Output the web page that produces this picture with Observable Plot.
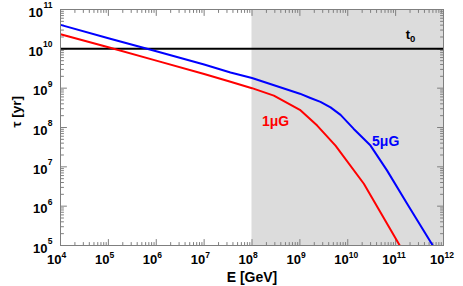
<!DOCTYPE html>
<html>
<head>
<meta charset="utf-8">
<script src="https://cdn.jsdelivr.net/npm/d3@7"></script>
<script src="https://cdn.jsdelivr.net/npm/@observablehq/plot@0.6"></script>
<style>
  html, body { margin: 0; padding: 0; background: #ffffff; }
  #chart svg { display: block; }
</style>
</head>
<body>
<div id="chart"></div>
<script>
// ---- data ----
// tick exponents (labels 10^n)
const xTickExp = [4, 5, 6, 7, 8, 9, 10, 11, 12];
const yTickExp = [5, 6, 7, 8, 9, 10, 11];

// 1 μG curve (red): energy [GeV], loss time [yr]
const energy1 = [1e4, 1e5, 1e6, 1e7, 3.55e7, 1e8, 2.86e8, 1e9, 2.3e9, 5.55e9, 2.17e10, 1.22e11];
const tau1    = [2.34e10, 1.10e10, 5.01e9, 2.29e9, 1.45e9, 1.0e9, 6.46e8, 2.82e8, 1.12e8, 3.47e7, 3.72e6, 1e5];

// 5 μG curve (blue)
const energy5 = [1e4, 1e5, 1e6, 1e7, 3.55e7, 1e8, 1e9, 1.66e9, 2.69e9, 4.37e9, 7.08e9, 1.32e10, 2.99e10, 6.6e10, 1.74e11, 5.97e11];
const tau5    = [4.07e10, 1.86e10, 8.71e9, 3.98e9, 2.51e9, 1.82e9, 7.24e8, 5.62e8, 4.47e8, 3.24e8, 2.09e8, 9.33e7, 3.47e7, 8.13e6, 1.15e6, 1e5];

// age of the universe t0 [yr]
const ageUniverse = [1e10];

// shaded energy band
const bandStart = [1e8];
const bandEnd = [1e12];

// curve labels and their anchor points (data units)
const curveNames = ["1μG", "5μG"];
const curveLabelE = [3.1e8, 6.2e10];
const curveLabelTau = [1.12e8, 3.3e7];
const curveColors = ["#ff0000", "#0000ff"];
const t0LabelE = [2.0e11];
const t0LabelTau = [1.78e10];

// ---- derived ----
const xMajor = xTickExp.map(e => 10 ** e);
const yMajor = yTickExp.map(e => 10 ** e);
const minorOf = exps => exps.slice(0, -1).flatMap(e => d3.range(2, 10).map(m => m * 10 ** e));
const xMinor = minorOf(xTickExp);
const yMinor = minorOf(yTickExp);

const red = d3.zip(energy1, tau1);
const blue = d3.zip(energy5, tau5);
const band = d3.zip(bandStart, bandEnd);
const curveLabels = curveNames.map((n, i) => ({n, E: curveLabelE[i], tau: curveLabelTau[i], c: curveColors[i]}));

const xMin = xMajor[0], xMax = xMajor[xMajor.length - 1];
const yMin = yMajor[0], yMax = yMajor[yMajor.length - 1];

const grey = "#7f7f7f";
const tickShape = {draw(context, l) { context.moveTo(0, 0); context.lineTo(0, -l); }};
const font = "Liberation Sans, Arial, Helvetica, sans-serif";

function ticks(data, side, len) {
  const o = {length: len, anchor: "start", shape: tickShape, stroke: grey, strokeWidth: 1};
  if (side === "bottom") return Plot.vector(data, {...o, x: d => d, y: () => yMin, rotate: 0});
  if (side === "top") return Plot.vector(data, {...o, x: d => d, y: () => yMax, rotate: 180});
  if (side === "left") return Plot.vector(data, {...o, y: d => d, x: () => xMin, rotate: 90});
  return Plot.vector(data, {...o, y: d => d, x: () => xMax, rotate: -90});
}

const base = {fontWeight: "bold", fill: "black", lineAnchor: "bottom"};

const chart = Plot.plot({
  width: 463,
  height: 286,
  marginLeft: 60,
  marginRight: 20,
  marginTop: 9,
  marginBottom: 41,
  style: {fontFamily: font, background: "#ffffff"},
  x: {type: "log", domain: [xMin, xMax], axis: null},
  y: {type: "log", domain: [yMin, yMax], axis: null},
  marks: [
    Plot.rect(band, {x1: d => d[0], x2: d => d[1], y1: () => yMin, y2: () => yMax, fill: "#dcdcdc"}),
    ticks(xMajor, "bottom", 6), ticks(xMinor, "bottom", 3),
    ticks(xMajor, "top", 6), ticks(xMinor, "top", 3),
    ticks(yMajor, "left", 6), ticks(yMinor, "left", 3),
    ticks(yMajor, "right", 6), ticks(yMinor, "right", 3),
    Plot.ruleY(ageUniverse, {stroke: "black", strokeWidth: 2}),
    Plot.line(red, {x: d => d[0], y: d => d[1], stroke: "#ff0000", strokeWidth: 2, clip: true}),
    Plot.line(blue, {x: d => d[0], y: d => d[1], stroke: "#0000ff", strokeWidth: 2, clip: true}),
    Plot.frame({stroke: grey, strokeWidth: 1}),
    // x tick labels: 10 with superscript exponent
    Plot.text(xTickExp, {...base, x: d => 10 ** d, frameAnchor: "bottom", text: () => "10", textAnchor: "end", dx: 1, dy: 18.5, fontSize: 13}),
    Plot.text(xTickExp, {...base, x: d => 10 ** d, frameAnchor: "bottom", text: d => String(d), textAnchor: "start", dx: 1, dy: 12.5, fontSize: 8.5}),
    // y tick labels
    Plot.text(yTickExp.filter(d => d < 10), {...base, y: d => 10 ** d, frameAnchor: "left", text: () => "10", textAnchor: "end", dx: -13, dy: 7, fontSize: 13}),
    Plot.text(yTickExp.filter(d => d >= 10), {...base, y: d => 10 ** d, frameAnchor: "left", text: () => "10", textAnchor: "end", dx: -17.5, dy: 7, fontSize: 13}),
    Plot.text(yTickExp, {...base, y: d => 10 ** d, frameAnchor: "left", text: d => String(d), textAnchor: "end", dx: -8, dy: -1.5, fontSize: 8.5}),
    // axis titles
    Plot.text(["E [GeV]"], {...base, frameAnchor: "bottom", text: d => d, dy: 36, fontSize: 14}),
    Plot.text(["τ [yr]"], {...base, frameAnchor: "left", text: d => d, rotate: -90, dx: -44, lineAnchor: "middle", fontSize: 13.5}),
    // curve labels
    Plot.text(curveLabels, {...base, x: "E", y: "tau", text: "n", fill: "c", fontSize: 14}),
    Plot.text(t0LabelE, {...base, x: d => d, y: (d, i) => t0LabelTau[i], text: () => "t", textAnchor: "end", fontSize: 13}),
    Plot.text(t0LabelE, {...base, x: d => d, y: (d, i) => t0LabelTau[i], text: () => "0", textAnchor: "start", dy: 3, fontSize: 9.5})
  ]
});
document.getElementById("chart").appendChild(chart);
</script>
</body>
</html>
